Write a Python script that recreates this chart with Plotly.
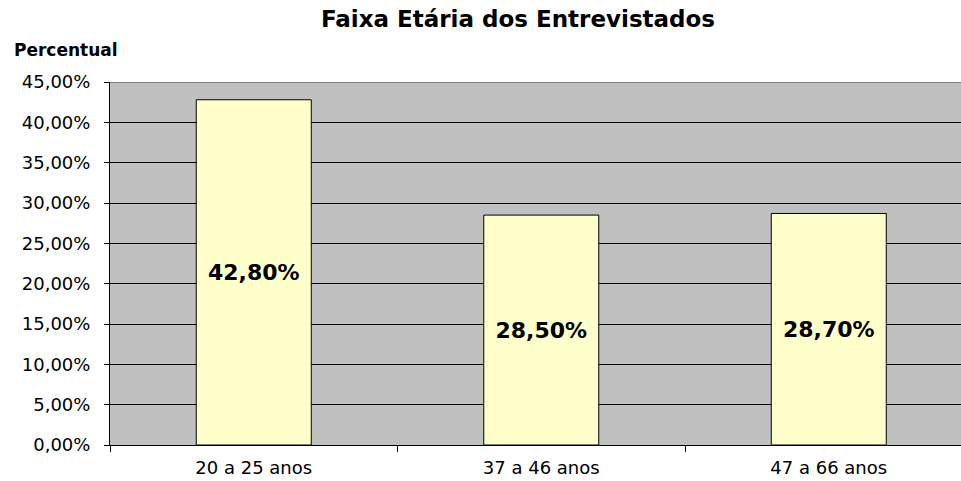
import plotly.graph_objects as go

categories = ["20 a 25 anos", "37 a 46 anos", "47 a 66 anos"]
values = [0.428, 0.285, 0.287]
title_text = "Faixa Etária dos Entrevistados"
y_title = "Percentual"

FONT = "DejaVu Sans"

fig = go.Figure()
fig.add_trace(go.Bar(
    x=categories,
    y=values,
    width=0.4,
    marker=dict(color="#FFFFCC", line=dict(color="black", width=1)),
    texttemplate="%{y:.2%}",
    textposition="inside",
    insidetextanchor="middle",
    textangle=0,
    constraintext="none",
    textfont=dict(family=FONT, size=22, color="black", weight="bold"),
    hoverinfo="skip",
))

fig.update_layout(
    width=961, height=481,
    separators=",.",
    paper_bgcolor="white",
    plot_bgcolor="#C0C0C0",
    margin=dict(l=110, r=0, t=82, b=36),
    showlegend=False,
    title=dict(text=title_text, x=518/961, xanchor="center", y=1 - 19/481, yanchor="middle",
               font=dict(family=FONT, size=23, color="black", weight="bold")),
    annotations=[dict(text=y_title, xref="paper", yref="paper", x=(12 - 110)/851, xanchor="left",
                      y=1 + 32/363, yanchor="middle", showarrow=False,
                      font=dict(family=FONT, size=17, color="black", weight="bold"))],
    shapes=[dict(type="line", xref="paper", yref="y", x0=0, x1=1, y0=0.45, y1=0.45,
                 line=dict(color="#808080", width=2))],
)

fig.update_xaxes(
    type="category",
    range=[-0.5, 2.46],
    tickson="boundaries",
    ticks="outside", ticklen=6, tickcolor="black", tickwidth=1,
    showline=True, linecolor="black", linewidth=1,
    showgrid=False,
    tickfont=dict(family=FONT, size=18, color="black"),
    ticklabelstandoff=6,
)
fig.update_yaxes(
    range=[0, 0.45],
    dtick=0.05,
    tickformat=".2%",
    ticks="outside", ticklen=5, tickcolor="black", tickwidth=1,
    showline=True, linecolor="black", linewidth=1,
    showgrid=True, gridcolor="black", gridwidth=1,
    zeroline=False,
    tickfont=dict(family=FONT, size=18, color="black"),
    ticklabelstandoff=10,
)

fig.write_html("out.html", config={"displayModeBar": False, "staticPlot": True},
               post_script="document.body.style.margin='0';document.body.style.overflow='hidden';")
